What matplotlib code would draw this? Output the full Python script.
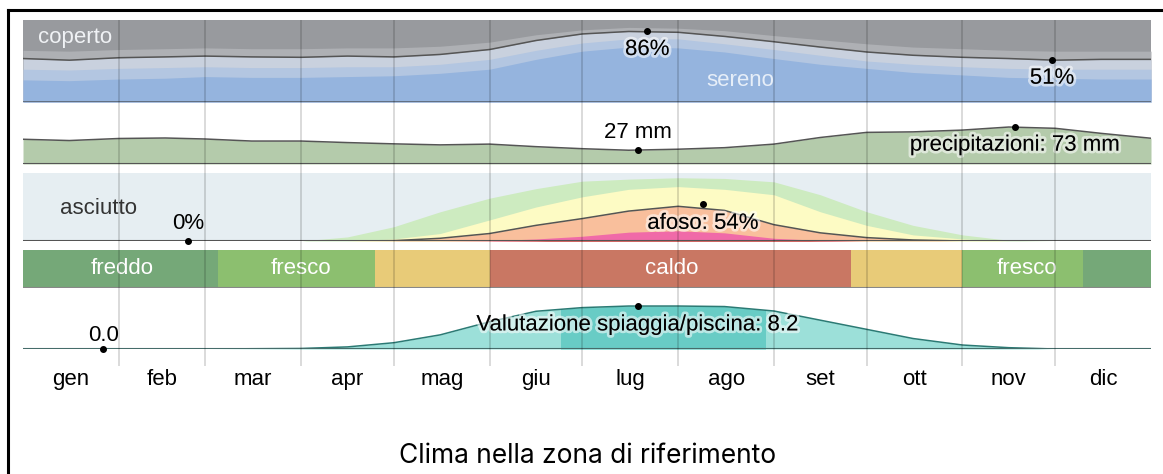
import matplotlib
matplotlib.use("Agg")
import matplotlib.pyplot as plt
import matplotlib.patheffects as pe
from matplotlib.lines import Line2D
from matplotlib.patches import Rectangle

plt.rcParams['font.family'] = ['Liberation Sans', 'DejaVu Sans']

# giorni dell'anno su cui ho letto i valori (1 e 15 di ogni mese circa)
giorni = [0, 15, 31, 46, 59, 74, 90, 105, 120, 135, 151, 166, 181,
          196, 212, 227, 243, 258, 273, 288, 304, 319, 334, 349, 365]

# nuvolosita (% cumulata dal basso)
sereno = [27, 26, 28, 29, 31, 30, 30, 31, 32, 35, 40, 52, 62,
          67, 66, 61, 53, 46, 41, 36, 33, 30, 29, 28, 28]
quasi_sereno = [40, 39, 41, 42, 43, 42, 42, 43, 43, 46, 52, 63, 72,
                77, 77, 71, 64, 57, 50, 46, 43, 41, 40, 40, 40]
parz_nuvoloso = [53, 51, 54, 55, 56, 55, 54.5, 56, 55, 58, 64, 75, 83,
                 86, 85, 80, 73.5, 67, 61, 57, 54.5, 53, 51, 52, 52]
quasi_coperto = [63, 62, 64, 65, 66, 65, 65, 66, 66, 68, 73, 82, 88,
                 91, 90, 87, 81, 76, 71, 67, 65, 63, 62, 62, 62]

# precipitazioni (mm)
pioggia = [48.5, 46, 50, 51, 49, 45, 45, 42, 39.5, 37.5, 39, 34, 30,
           27, 29, 32, 39, 52, 62, 63, 66.5, 72.5, 70, 60, 50.5]

# umidita (% cumulata)
umido = [0, 0, 0, 0, 0, 0, 0, 6, 21, 43, 63, 77, 88,
         91, 93, 92, 87, 68, 43, 23, 9, 1, 0, 0, 0]
afoso_top = [0, 0, 0, 0, 0, 0, 0, 0, 3, 11, 31, 50, 65,
             76, 80, 76, 68, 43, 23, 9, 3, 0, 0, 0, 0]
afoso = [0, 0, 0, 0, 0, 0, 0, 0, 0.5, 4, 11, 23, 33,
         44, 51, 45, 24, 12, 5, 1.5, 0, 0, 0, 0, 0]
opprimente = [0, 0, 0, 0, 0, 0, 0, 0, 0, 0, 0.5, 3, 7,
              13, 15, 12, 4, 1, 0, 0, 0, 0, 0, 0, 0]
soffocante = [0, 0, 0, 0, 0, 0, 0, 0, 0, 0, 0, 0.5, 1.5,
              2, 2, 2, 1.5, 0.5, 0, 0, 0, 0, 0, 0, 0]

# valutazione spiaggia / piscina
spiaggia = [0, 0, 0, 0, 0, 0.05, 0.1, 0.4, 1.2, 2.7, 5.2, 7.2, 7.9,
            8.2, 8.2, 8.1, 7.25, 5.5, 3.75, 2.0, 0.76, 0.25, 0, 0, 0]
periodo_migliore = (174, 240)

# fasce di temperatura
temp_inizio = [0, 63, 114, 151, 268, 304, 343]
temp_fine = [63, 114, 151, 268, 304, 343, 365]
temp_colori = ['#75a878', '#8cbf6f', '#e8cb78', '#c97763', '#e8cb78', '#8cbf6f', '#75a878']
temp_etichette = [('freddo', 32), ('fresco', 90), ('caldo', 210), ('fresco', 325)]

mesi = ['gen', 'feb', 'mar', 'apr', 'mag', 'giu', 'lug', 'ago', 'set', 'ott', 'nov', 'dic']
inizio_mesi = [0, 31, 59, 90, 120, 151, 181, 212, 243, 273, 304, 334, 365]

W, H = 1163, 474
X0, X1 = 23, 1151


def rect(top, bottom):
    return [X0 / W, 1 - bottom / H, (X1 - X0) / W, (bottom - top) / H]


def pulisci(ax):
    ax.set_xlim(0, 365)
    ax.set_xticks([])
    ax.set_yticks([])
    for s in ax.spines.values():
        s.set_visible(False)


alone = [pe.withStroke(linewidth=4, foreground=(1, 1, 1, 0.55))]
fs = 16

fig = plt.figure(figsize=(W / 100, H / 100), dpi=100)

# --- nuvolosita
ax = fig.add_axes(rect(20, 102))
pulisci(ax)
ax.set_ylim(0, 100)
ax.set_facecolor('#989a9e')
ax.fill_between(giorni, 0, quasi_coperto, color='#aeb0b4', lw=0)
ax.fill_between(giorni, 0, parz_nuvoloso, color='#c9d1de', lw=0)
ax.fill_between(giorni, 0, quasi_sereno, color='#b3c6e1', lw=0)
ax.fill_between(giorni, 0, sereno, color='#95b4de', lw=0)
ax.plot(giorni, parz_nuvoloso, color='#555', lw=1.1)
ax.axhline(0, color='#5c6878', lw=2)
ax.text(5, 79, 'coperto', color='#f0f2f5', fontsize=fs, va='center', ha='left')
ax.text(232, 26, 'sereno', color='#e6eef8', fontsize=fs, va='center', ha='center')
ax.plot([202], [86], 'o', color='black', ms=4)
ax.text(202, 64, '86%', fontsize=fs, ha='center', va='center', path_effects=alone)
ax.plot([333], [51], 'o', color='black', ms=4)
ax.text(333, 29, '51%', fontsize=fs, ha='center', va='center', path_effects=alone)

# --- precipitazioni
ax = fig.add_axes(rect(113, 164))
pulisci(ax)
ax.set_ylim(0, 100)
ax.patch.set_alpha(0)
ax.fill_between(giorni, 0, pioggia, color='#b4cbab', lw=0)
ax.plot(giorni, pioggia, color='#555', lw=1.1)
ax.axhline(0, color='#555', lw=1.5)
ax.plot([199], [27], 'o', color='black', ms=4)
ax.text(199, 62, '27 mm', fontsize=fs, ha='center', va='center')
ax.plot([321], [73], 'o', color='black', ms=4)
ax.text(321, 37, 'precipitazioni: 73 mm', fontsize=fs, ha='center', va='center', path_effects=alone)

# --- umidita
ax = fig.add_axes(rect(173, 241))
pulisci(ax)
ax.set_ylim(0, 100)
ax.set_facecolor('#e6eef2')
ax.fill_between(giorni, 0, umido, color='#cdebc0', lw=0)
ax.fill_between(giorni, 0, afoso_top, color='#fdfbc4', lw=0)
ax.fill_between(giorni, 0, afoso, color='#f9bf9c', lw=0)
ax.fill_between(giorni, 0, opprimente, color='#f06aa8', lw=0)
ax.fill_between(giorni, 0, soffocante, color='#b0311c', lw=0)
ax.plot(giorni, afoso, color='#555', lw=1.1)
ax.axhline(0, color='#555', lw=1.5)
ax.text(12, 48, 'asciutto', color='#333', fontsize=fs, ha='left', va='center')
ax.plot([53.5], [0], 'o', color='black', ms=4, clip_on=False)
ax.text(53.5, 26, '0%', fontsize=fs, ha='center', va='center')
ax.plot([220], [54], 'o', color='black', ms=4)
ax.text(220, 26, 'afoso: 54%', fontsize=fs, ha='center', va='center', path_effects=alone)

# --- temperatura
ax = fig.add_axes(rect(250, 288))
pulisci(ax)
ax.set_ylim(0, 1)
for i, f, c in zip(temp_inizio, temp_fine, temp_colori):
    ax.bar(i, 1, width=f - i, bottom=0, align='edge', color=c, lw=0)
ax.axhline(0, color='#888', lw=1.5)
for nome, g in temp_etichette:
    ax.text(g, 0.5, nome, color='white', fontsize=fs, ha='center', va='center')

# --- spiaggia
ax = fig.add_axes(rect(296.6, 349))
pulisci(ax)
ax.set_ylim(0, 10)
ax.patch.set_alpha(0)
ax.fill_between(giorni, 0, spiaggia, color='#9ce0d9', lw=0)
scuro = ax.fill_between(giorni, 0, spiaggia, color='#68ccc5', lw=0)
clip = Rectangle((periodo_migliore[0], 0), periodo_migliore[1] - periodo_migliore[0], 10,
                 transform=ax.transData)
scuro.set_clip_path(clip)
ax.plot(giorni, spiaggia, color='#2b7a74', lw=1.1)
ax.axhline(0, color='#466c6a', lw=1.5)
ax.plot([26], [0], 'o', color='black', ms=4, clip_on=False)
ax.text(26, 2.6, '0.0', fontsize=fs, ha='center', va='center')
ax.plot([199], [8.2], 'o', color='black', ms=4)
ax.text(199, 4.6, 'Valutazione spiaggia/piscina: 8.2', fontsize=fs, ha='center', va='center',
        path_effects=alone)

# --- griglia mesi e etichette
ax = fig.add_axes(rect(20, 366))
ax.set_zorder(10)
ax.patch.set_alpha(0)
ax.set_xlim(0, 365)
ax.set_ylim(0, 1)
for s in ax.spines.values():
    s.set_visible(False)
for g in inizio_mesi[1:-1]:
    ax.axvline(g, color='black', alpha=0.17, lw=1.2)
centri = [(a + b) / 2 for a, b in zip(inizio_mesi[:-1], inizio_mesi[1:])]
ax.set_xticks(centri, mesi, fontsize=fs)
ax.tick_params(axis='x', length=0, pad=2)
ax.set_yticks([])

fig.text(588 / W, 1 - 456 / H, 'Clima nella zona di riferimento', fontsize=19,
         family='Inter', ha='center', va='center')

# cornice
fig.add_artist(Line2D([8 / W, 8 / W], [0, 1 - 10 / H], color='black', lw=2.2))
fig.add_artist(Line2D([8 / W, 1], [1 - 10 / H, 1 - 10 / H], color='black', lw=2.2))

fig.savefig('out.png', dpi=100)
